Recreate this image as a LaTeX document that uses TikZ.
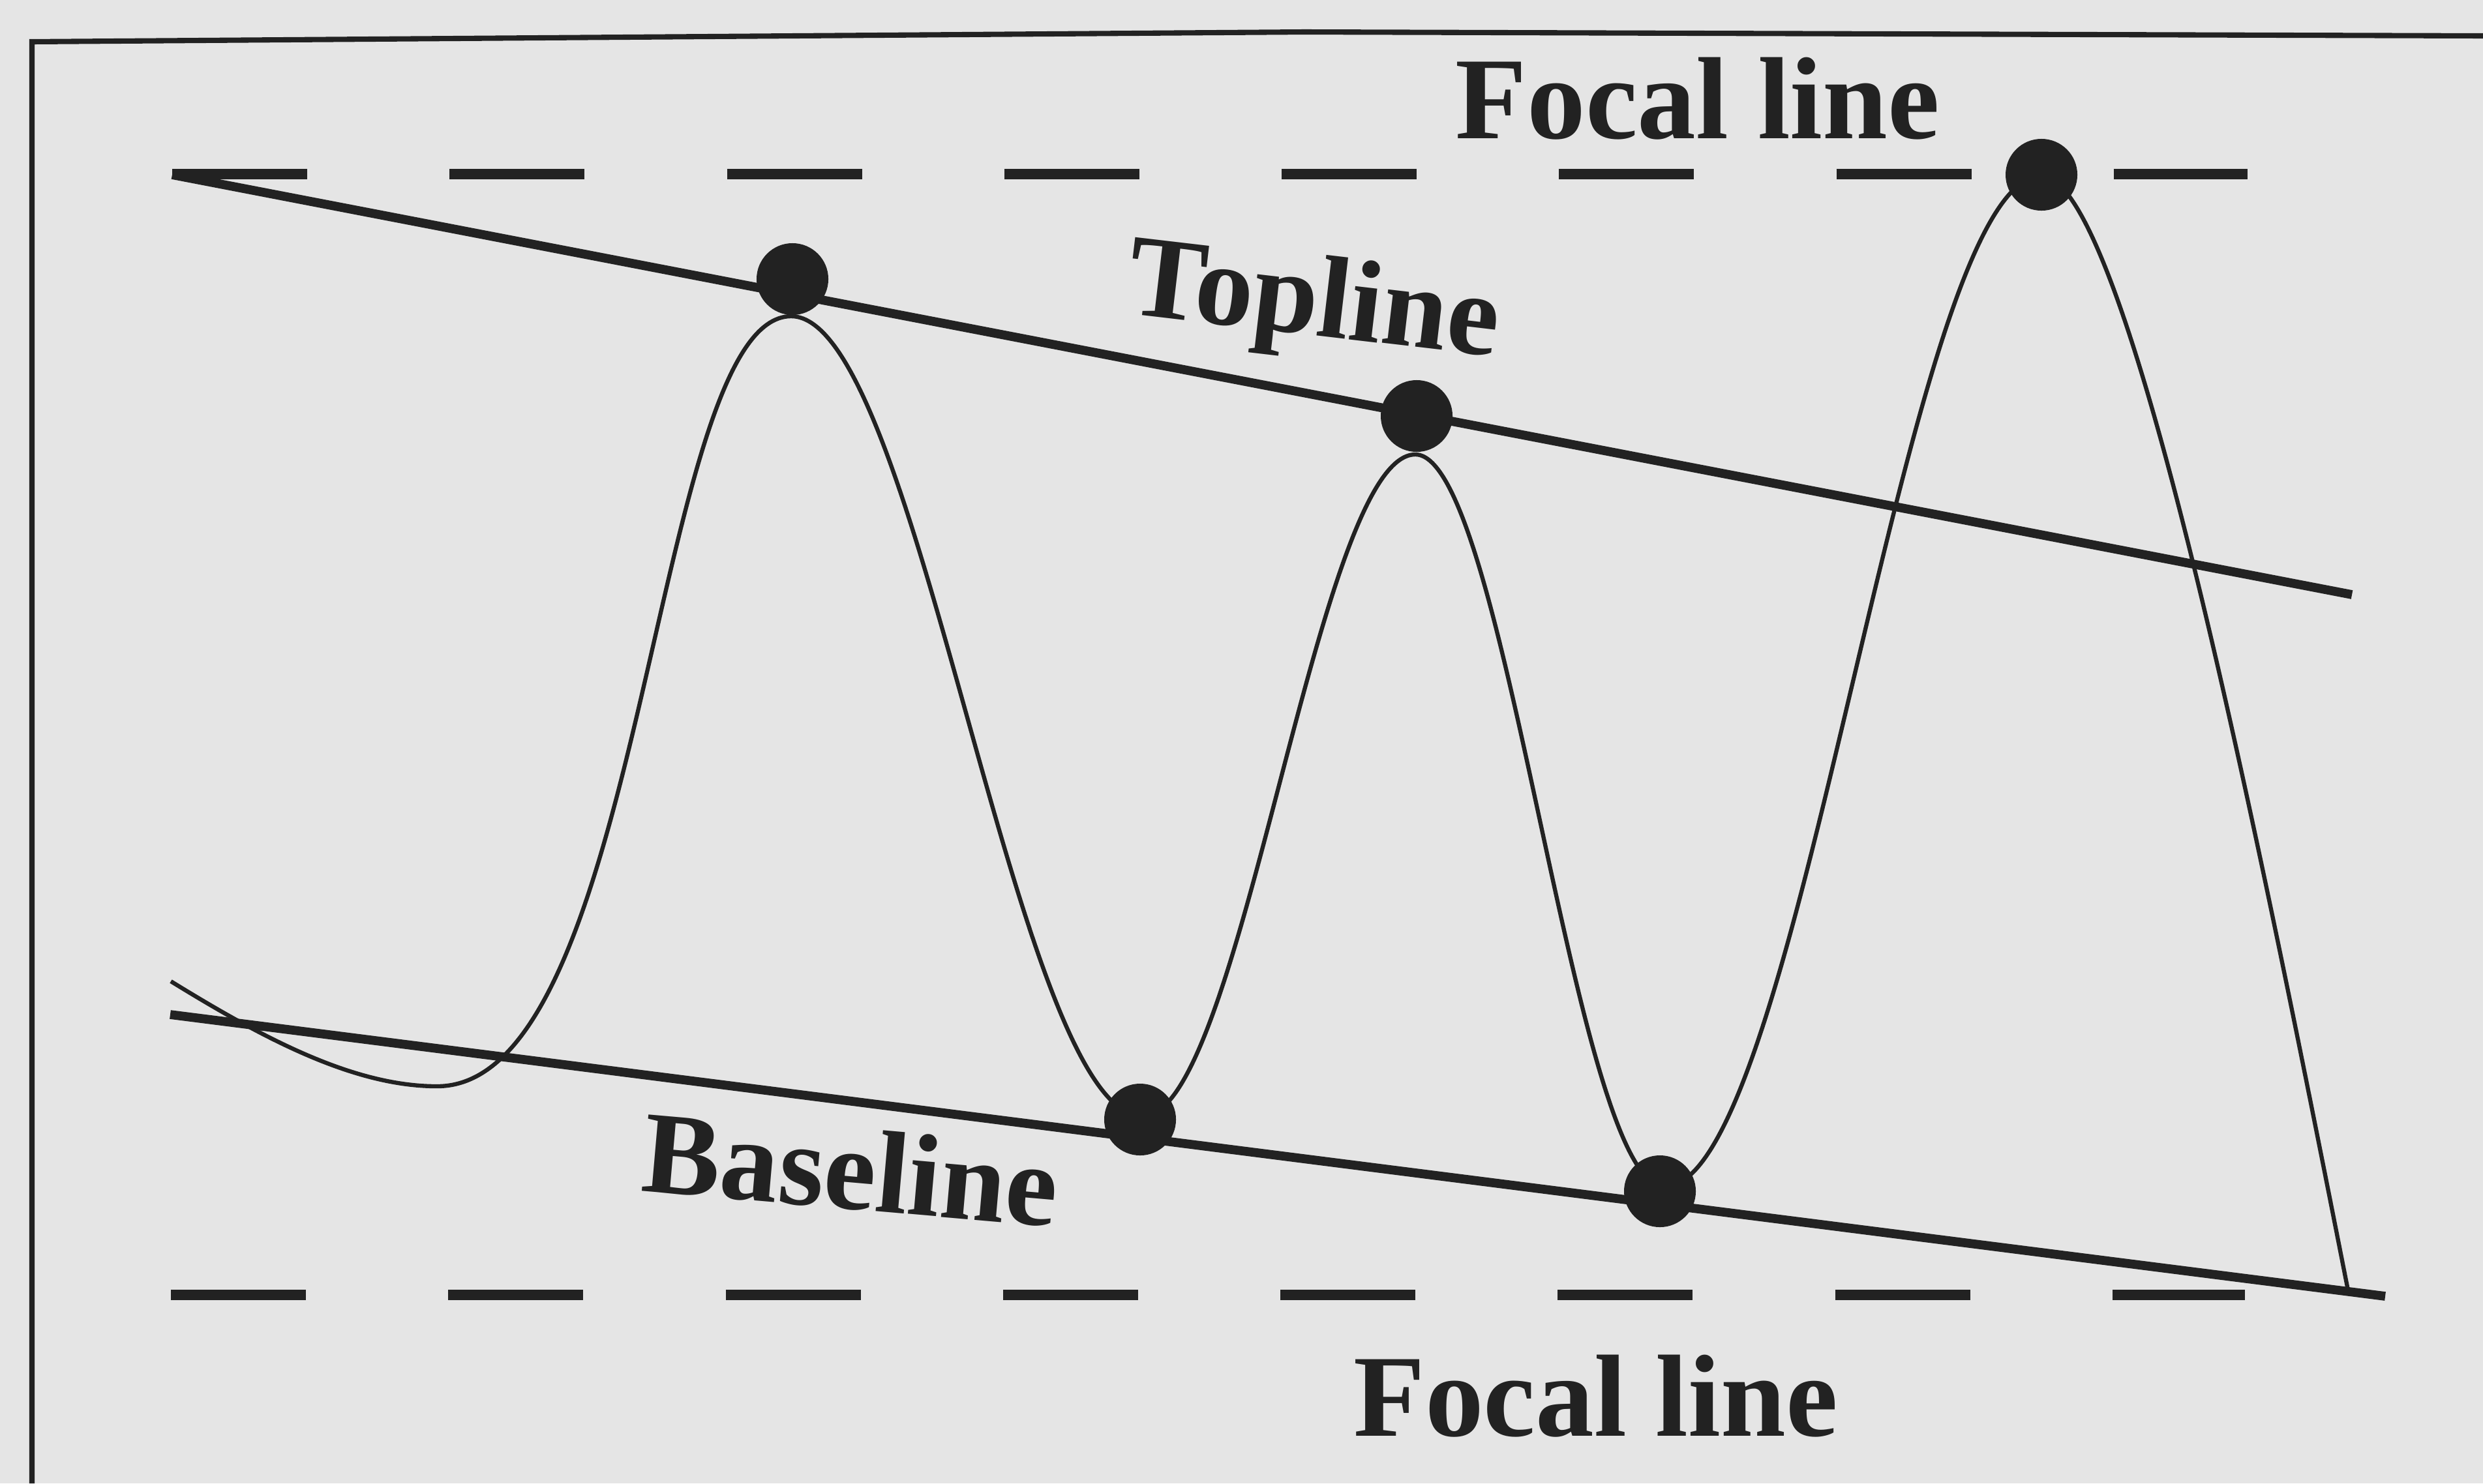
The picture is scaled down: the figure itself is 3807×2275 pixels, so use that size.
\documentclass[tikz,border=0pt]{standalone}
\usepackage{fontspec}
\setmainfont{Liberation Serif}
\definecolor{paper}{RGB}{229,229,229}
\definecolor{ink}{RGB}{34,34,34}
\begin{document}
\begin{tikzpicture}[x=0.01cm,y=-0.01cm,
  trendline/.style={draw=ink,line width=3.9pt},
  focal/.style={draw=ink,line width=4.3pt,dash pattern=on 2.07cm off 2.18cm},
  wave/.style={draw=ink,line width=1.8pt},
  framebox/.style={draw=ink,line width=2.3pt},
  dot/.style={circle,fill=ink,inner sep=0pt,minimum size=1.1cm},
  lbl/.style={text=ink,font=\bfseries\fontsize{51}{60}\selectfont,inner sep=0pt}]
\fill[paper] (0,0) rectangle (3807,2275);
\useasboundingbox (0,0) rectangle (3807,2275);
% frame
\coordinate (frA) at (49,2275);
\coordinate (frB) at (49,64);
\coordinate (frC) at (2000,49);
\coordinate (frD) at (3807,55);
\draw[framebox] (frA) -- (frB) -- (frC) -- (frD);
% focal lines
\coordinate (ftA) at (264,267); \coordinate (ftB) at (3446,267);
\coordinate (fbA) at (262,1986); \coordinate (fbB) at (3442,1986);
\draw[focal] (ftA) -- (ftB);
\draw[focal] (fbA) -- (fbB);
% topline and baseline
\coordinate (tlA) at (264,268); \coordinate (tlB) at (3606,912);
\coordinate (blA) at (261,1556); \coordinate (blB) at (3657,1988);
\draw[trendline] (tlA) -- (tlB);
\draw[trendline] (blA) -- (blB);
% wave
\coordinate (w0) at (262,1505);
\coordinate (w1) at (670,1666);
\coordinate (p1) at (1213,485);
\coordinate (t1) at (1752,1712);
\coordinate (p2) at (2170,697);
\coordinate (t2) at (2552,1820);
\coordinate (p3) at (3130,270);
\coordinate (wE) at (3600,1979);
\draw[wave] (w0) .. controls (400,1590) and (540,1666) .. (w1)
  .. controls (990,1666) and (1000,485) .. (p1)
  .. controls (1409,485) and (1556,1712) .. (t1)
  .. controls (1904,1712) and (2018,697) .. (p2)
  .. controls (2309,697) and (2413,1820) .. (t2)
  .. controls (2762,1820) and (2920,270) .. (p3)
  .. controls (3260,270) and (3462,1279) .. (wE);
% dots
\node[dot] (d1) at (1215,428) {};
\node[dot] (d2) at (2172,638) {};
\node[dot] (d3) at (1748,1717) {};
\node[dot] (d4) at (2545,1827) {};
\node[dot] (d5) at (3130,268) {};
% labels
\node[lbl,anchor=base west] (ft) at (2231,212) {Focal line};
\node[lbl,anchor=base west] (fb) at (2075,2202) {Focal line};
\node[lbl,anchor=base west,rotate=-6.7] (tp) at (1724,480) {Topline};
\node[lbl,anchor=base west,rotate=-5] (bs) at (981,1826) {Baseline};
\end{tikzpicture}
\end{document}
